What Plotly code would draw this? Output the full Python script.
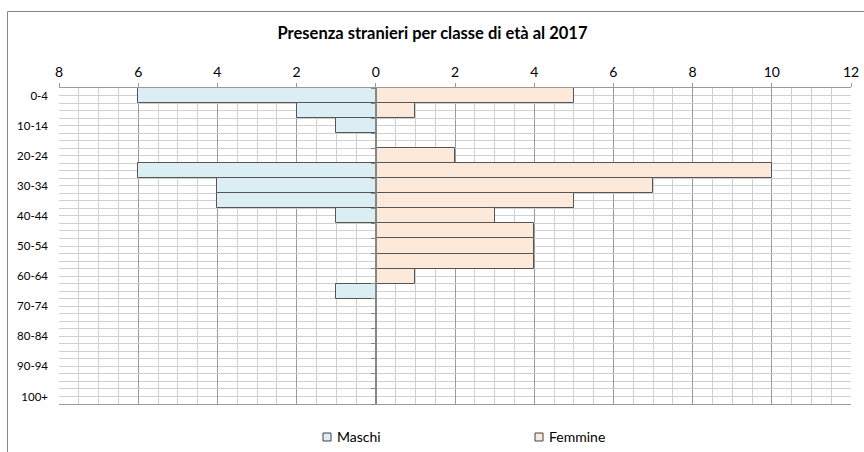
"""Piramide presenza stranieri per classe di eta al 2017."""

import plotly.graph_objects as go

AGE_CLASSES = [
    "0-4", "5-9", "10-14", "15-19", "20-24", "25-29", "30-34", "35-39",
    "40-44", "45-49", "50-54", "55-59", "60-64", "65-69", "70-74", "75-79",
    "80-84", "85-89", "90-94", "95-99", "100+",
]
MASCHI = [6, 2, 1, 0, 0, 6, 4, 4, 1, 0, 0, 0, 0, 1, 0, 0, 0, 0, 0, 0, 0]
FEMMINE = [5, 1, 0, 0, 2, 10, 7, 5, 3, 4, 4, 4, 1, 0, 0, 0, 0, 0, 0, 0, 0]
SERIES = ["Maschi", "Femmine"]
X_TICKS = [-8, -6, -4, -2, 0, 2, 4, 6, 8, 10, 12]
Y_LABELS = AGE_CLASSES[::2]

FONT = "Lato, 'Open Sans', sans-serif"
EDGE = "#555555"
MAJOR_GRID = "#9a9a9a"
MINOR_GRID = "#cfcfcf"
COLORS = {"Maschi": "#DBEEF4", "Femmine": "#FDE9D9"}

W, H = 864, 452
M_L, M_R, M_T, M_B = 59, 13, 88, 48
PW, PH = W - M_L - M_R, H - M_T - M_B


def px_x(p):
    """page pixel -> paper x"""
    return (p - M_L) / PW


def px_y(p):
    """page pixel -> paper y"""
    return 1 - (p - M_T) / PH


fig = go.Figure()
for name, values, sign in [("Maschi", MASCHI, -1), ("Femmine", FEMMINE, 1)]:
    fig.add_trace(
        go.Bar(
            y=AGE_CLASSES,
            x=[sign * v for v in values],
            orientation="h",
            name=name,
            marker={"color": COLORS[name], "line": {"color": EDGE, "width": 1}},
            showlegend=False,
            hoverinfo="skip",
        )
    )
# dummy trace so the grid axis is drawn
fig.add_trace(
    go.Scatter(x=[None], y=[None], yaxis="y2", showlegend=False, hoverinfo="skip")
)

# legend drawn by hand: small squares + labels
legend_shapes = []
legend_notes = []
for name, sq_left in zip(SERIES, [323, 535]):
    legend_shapes.append(
        {
            "type": "rect",
            "xref": "paper",
            "yref": "paper",
            "x0": px_x(sq_left),
            "x1": px_x(sq_left + 8),
            "y0": px_y(441),
            "y1": px_y(433),
            "line": {"color": "#404040", "width": 1},
            "fillcolor": COLORS[name],
        }
    )
    legend_notes.append(
        {
            "text": name,
            "xref": "paper",
            "yref": "paper",
            "x": px_x(sq_left + 12),
            "y": px_y(437),
            "xanchor": "left",
            "yanchor": "middle",
            "showarrow": False,
            "font": {"size": 14, "family": FONT, "color": "#000000"},
        }
    )

fig.update_layout(
    width=W,
    height=H,
    margin={"l": M_L, "r": M_R, "t": M_T, "b": M_B, "autoexpand": False},
    paper_bgcolor="white",
    plot_bgcolor="white",
    barmode="overlay",
    bargap=0,
    showlegend=False,
    font={"family": FONT, "color": "#000000", "size": 12},
    title={
        "text": "<b>Presenza stranieri per classe di età al 2017</b>",
        "x": 432.5 / W,
        "xanchor": "center",
        "y": 1 - 33 / H,
        "yanchor": "middle",
        "font": {"size": 16.5, "family": FONT},
    },
    xaxis={
        "range": [-8, 12],
        "side": "top",
        "tickvals": X_TICKS,
        "ticktext": [str(abs(v)) for v in X_TICKS],
        "tickfont": {"size": 14},
        "ticks": "outside",
        "ticklen": 4,
        "tickcolor": MAJOR_GRID,
        "showgrid": True,
        "gridcolor": MAJOR_GRID,
        "gridwidth": 1,
        "minor": {"dtick": 0.5, "showgrid": True, "gridcolor": MINOR_GRID, "gridwidth": 1},
        "zeroline": False,
        "showline": True,
        "linecolor": MAJOR_GRID,
        "mirror": True,
        "automargin": False,
        "fixedrange": True,
    },
    yaxis={
        "type": "category",
        "categoryorder": "array",
        "categoryarray": AGE_CLASSES,
        "autorange": "reversed",
        "tickvals": Y_LABELS,
        "ticktext": Y_LABELS,
        "tickfont": {"size": 11.5},
        "ticks": "",
        "ticklabelstandoff": 10,
        "showgrid": False,
        "zeroline": False,
        "automargin": False,
        "fixedrange": True,
    },
    yaxis2={
        "overlaying": "y",
        "anchor": "free",
        "position": px_x(376),
        "side": "left",
        "range": [20.5, -0.5],
        "tick0": 0.5,
        "dtick": 1,
        "ticks": "outside",
        "ticklen": 4,
        "tickcolor": "#868686",
        "showticklabels": False,
        "showgrid": True,
        "gridcolor": MINOR_GRID,
        "gridwidth": 1,
        "minor": {"dtick": 0.5, "tick0": 0, "showgrid": True, "gridcolor": MINOR_GRID, "gridwidth": 1},
        "showline": True,
        "linecolor": "#868686",
        "linewidth": 1.5,
        "zeroline": False,
        "automargin": False,
        "fixedrange": True,
    },
    shapes=[
        {
            "type": "rect",
            "xref": "paper",
            "yref": "paper",
            "x0": px_x(7.5),
            "x1": px_x(880),
            "y0": px_y(470),
            "y1": px_y(11.5),
            "line": {"color": "#868686", "width": 1},
            "fillcolor": "rgba(0,0,0,0)",
            "layer": "below",
        }
    ]
    + legend_shapes,
    annotations=legend_notes,
)

# drop the default page margin so the figure sits at the window's corner
fig.write_html(
    "out.html",
    config={"displayModeBar": False},
    post_script="document.body.style.margin='0';document.body.style.overflow='hidden';",
)
